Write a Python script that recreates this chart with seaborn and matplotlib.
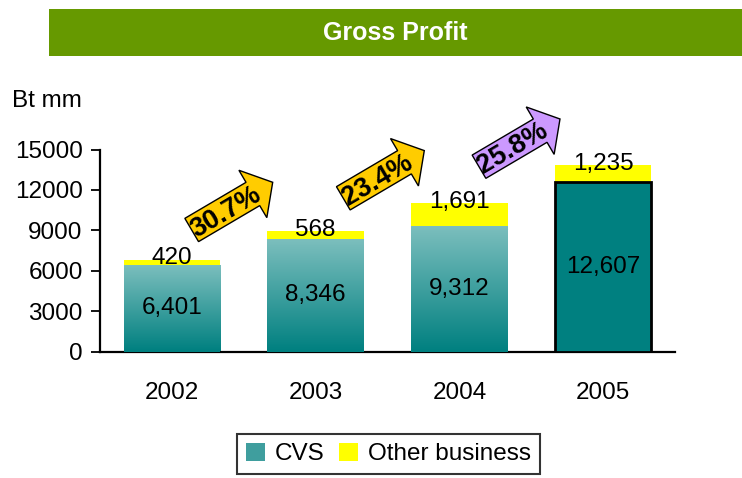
import numpy as np
import pandas as pd
import matplotlib
matplotlib.use("Agg")
import matplotlib.pyplot as plt
import seaborn as sns
from matplotlib.patches import Patch, FancyArrow, Rectangle
from matplotlib.colors import LinearSegmentedColormap

# ---- data ----
years = ["2002", "2003", "2004", "2005"]
cvs = [6401, 8346, 9312, 12607]
other = [420, 568, 1691, 1235]
growth = ["30.7%", "23.4%", "25.8%"]
growth_colors = ["#FFCC00", "#FFCC00", "#CC99FF"]
yticks = [0, 3000, 6000, 9000, 12000, 15000]
title = "Gross Profit"
ylabel = "Bt mm"
legend_labels = ["CVS", "Other business"]

df = pd.DataFrame({"year": years, "cvs": cvs, "other": other})
df["total"] = df["cvs"] + df["other"]

sns.set_style("ticks")
plt.rcParams["font.family"] = ["Liberation Sans", "DejaVu Sans"]
plt.rcParams["text.color"] = "black"
plt.rcParams["xtick.color"] = "black"
plt.rcParams["ytick.color"] = "black"
plt.rcParams["xtick.labelcolor"] = "black"
plt.rcParams["ytick.labelcolor"] = "black"

W, H = 742, 478
fig = plt.figure(figsize=(W / 100, H / 100), dpi=100)
fig.patch.set_facecolor("white")

# title banner
fig.patches.append(Rectangle((49 / W, 1 - 56 / H), (W - 49) / W, 47 / H,
                             transform=fig.transFigure, facecolor="#669900",
                             edgecolor="none", zorder=0))
fig.text(395.5 / W, 1 - 33 / H, title, color="white", fontsize=18,
         fontweight="bold", ha="center", va="center")

ax = fig.add_axes([100 / W, (H - 351.5) / H, 575 / W, 202 / H])
TEAL = "#008080"
sns.barplot(data=df, x="year", y="total", color="#FFFF00", saturation=1,
            width=0.67, ax=ax, edgecolor="none", linewidth=0, zorder=2)
n_tot = len(ax.patches)
sns.barplot(data=df, x="year", y="cvs", color=TEAL, saturation=1,
            width=0.67, ax=ax, edgecolor="none", linewidth=0, zorder=3)
cvs_patches = ax.patches[n_tot:]

cmap = LinearSegmentedColormap.from_list("tealgrad", ["#008080", "#7DBFBE"])
grad = np.linspace(0, 1, 256).reshape(-1, 1)
for i, p in enumerate(cvs_patches):
    if i < len(cvs_patches) - 1:
        x0, y0 = p.get_x(), p.get_y()
        w, h = p.get_width(), p.get_height()
        im = ax.imshow(grad, cmap=cmap, aspect="auto", origin="lower",
                       extent=[x0, x0 + w, y0, y0 + h], zorder=3.5)
        im.set_clip_path(p)
    else:
        p.set_edgecolor("black")
        p.set_linewidth(2)
        p.set_zorder(4)

ax.set_xlim(-0.5, 3.5)
ax.set_ylim(0, 15000)
ax.set_yticks(yticks)
ax.set_xlabel("")
ax.set_ylabel("")
sns.despine(ax=ax)
for s in ["left", "bottom"]:
    ax.spines[s].set_linewidth(1.6)
    ax.spines[s].set_color("black")
ax.tick_params(axis="y", length=6.5, width=1.3, labelsize=17.5, pad=6,
               colors="black")
ax.tick_params(axis="x", length=0, labelsize=17.5, pad=22, colors="black")
ax.set_facecolor("none")

# value labels
for i in range(len(years)):
    ax.text(i, cvs[i] / 2, f"{cvs[i]:,}", ha="center", va="center",
            fontsize=17.5, zorder=6, color="black")
    ax.text(i, cvs[i] + other[i] + 100, f"{other[i]:,}", ha="center",
            va="center", fontsize=17.5, zorder=6, color="black")

fig.text(12 / W, 1 - 101 / H, ylabel, fontsize=17.5, ha="left", va="center",
         color="black")

# growth arrows (overlay in pixel coordinates)
ov = fig.add_axes([0, 0, 1, 1], zorder=10)
ov.set_xlim(0, W)
ov.set_ylim(H, 0)
ov.axis("off")
ov.patch.set_alpha(0)
arrow_tails = [(191.7, 230.0), (343.3, 198.3), (479.0, 166.7)]
ang = np.deg2rad(30.5)
L = 94
for (tx, ty), lab, col in zip(arrow_tails, growth, growth_colors):
    dx, dy = L * np.cos(ang), -L * np.sin(ang)
    arr = FancyArrow(tx, ty, dx, dy, width=27, head_width=55, head_length=23,
                     length_includes_head=True, facecolor=col,
                     edgecolor="black", linewidth=1)
    ov.add_patch(arr)
    cx, cy = tx + 0.42 * dx, ty + 0.42 * dy + 2
    ov.text(cx, cy, lab, rotation=30.5, rotation_mode="anchor",
            ha="center", va="center", fontsize=19.5, fontweight="bold",
            color="black")

handles = [Patch(facecolor="#3F9E9E", edgecolor="none"),
           Patch(facecolor="#FFFF00", edgecolor="none")]
leg = fig.legend(handles, legend_labels, loc="upper left",
                 bbox_to_anchor=(237 / W, 1 - 434 / H), ncol=2,
                 frameon=True, fancybox=False, edgecolor="black",
                 fontsize=17.5, handlelength=0.8, handleheight=0.8,
                 handletextpad=0.4, columnspacing=0.6, borderpad=0.35,
                 borderaxespad=0)
leg.get_frame().set_linewidth(1.5)
for t in leg.get_texts():
    t.set_color("black")

fig.savefig("out.png", dpi=100)
